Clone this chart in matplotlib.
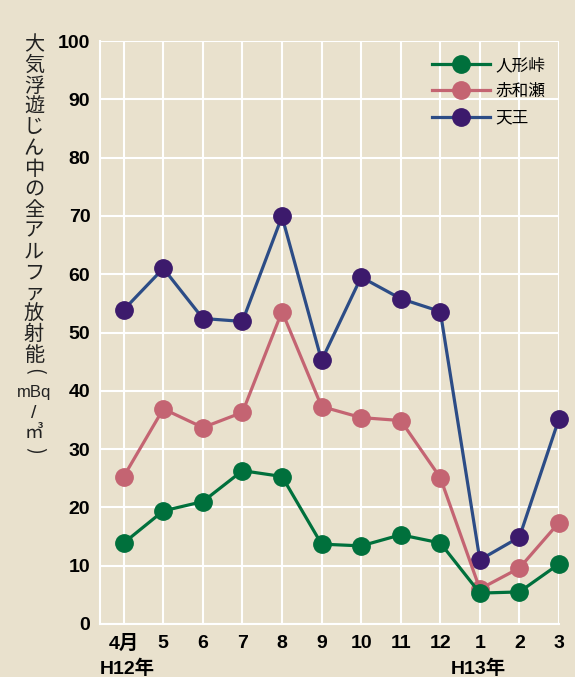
import matplotlib
matplotlib.use("Agg")
import matplotlib.pyplot as plt

# Data
months = ["4月", "5", "6", "7", "8", "9", "10", "11", "12", "1", "2", "3"]
ningyo = [13.9, 19.4, 21.0, 26.3, 25.3, 13.7, 13.4, 15.3, 13.9, 5.3, 5.5, 10.3]
akawase = [25.3, 36.9, 33.7, 36.3, 53.6, 37.3, 35.4, 34.9, 25.1, 6.0, 9.6, 17.4]
tenno = [53.9, 61.0, 52.4, 51.9, 69.9, 45.2, 59.5, 55.8, 53.6, 11.0, 14.9, 35.2]
series_names = ["人形峠", "赤和瀬", "天王"]
year_labels = ["H12年", "H13年"]
ylabel_chars = list("大気浮遊じん中の全アルファ放射能")

BG = "#e9e1cd"
GREEN = "#00703c"
PINK = "#c46472"
PURPLE = "#3c1a6c"
NAVY = "#2c4c86"
FONTS = ["Liberation Sans", "Noto Sans CJK JP"]

plt.rcParams["font.family"] = FONTS

fig = plt.figure(figsize=(5.75, 6.77), dpi=100, facecolor=BG)
ax = fig.add_axes([100 / 575, 53 / 677, 459 / 575, 583 / 677])
ax.set_facecolor(BG)

x = list(range(len(months)))
ax.plot(x, tenno, color=NAVY, lw=2.3, marker="o", ms=12.5,
        mfc=PURPLE, mec=PURPLE, label=series_names[2], zorder=3, clip_on=False)
ax.plot(x, akawase, color=PINK, lw=2.3, marker="o", ms=12.5,
        mfc=PINK, mec=PINK, label=series_names[1], zorder=4, clip_on=False)
ax.plot(x, ningyo, color=GREEN, lw=2.3, marker="o", ms=12.5,
        mfc=GREEN, mec=GREEN, label=series_names[0], zorder=5, clip_on=False)

ax.set_xlim(-0.6, 11)
ax.set_ylim(0, 100)
ax.set_xticks(x)
ax.set_xticklabels(months)
ax.set_yticks(range(0, 101, 10))
ax.tick_params(length=0, labelsize=14)
ax.tick_params(axis="x", pad=8)
ax.tick_params(axis="y", pad=7)
for lab in ax.get_xticklabels() + ax.get_yticklabels():
    lab.set_fontweight("bold")

ax.grid(True, color="white", lw=1.5, zorder=1)
ax.set_axisbelow(True)
for side in ["top", "right"]:
    ax.spines[side].set_visible(False)
for side in ["left", "bottom"]:
    ax.spines[side].set_color("white")
    ax.spines[side].set_linewidth(1.5)

# year labels under the month ticks
ax.text(0.08, -7.7, year_labels[0], ha="center", va="center",
        fontsize=14, fontweight="bold")
ax.text(8.95, -7.7, year_labels[1], ha="center", va="center",
        fontsize=14, fontweight="bold")

handles, labels = ax.get_legend_handles_labels()
ax.legend(handles[::-1], labels[::-1], loc="upper left",
          bbox_to_anchor=(0.69, 0.998), frameon=False, fontsize=12,
          handlelength=3.5, handletextpad=0.3, labelspacing=0.68,
          numpoints=1)

# vertical y-axis title, one character at a time
W, H = 575, 677
for i, ch in enumerate(ylabel_chars):
    fig.text(34 / W, 1 - (45 + i * 20.7) / H, ch, ha="center", va="center",
             fontsize=14.5, color="#222222", family="Noto Sans CJK JP")
fig.text(34 / W, 1 - 371 / H, "(", ha="center", va="center", rotation=-90,
         fontsize=14.5, color="#222222", family="Noto Sans CJK JP")
fig.text(34 / W, 1 - 393 / H, "mBq", ha="center", va="center",
         fontsize=12, color="#222222", family="Liberation Sans")
fig.text(34 / W, 1 - 414 / H, "/", ha="center", va="center",
         fontsize=14, color="#222222", family="Liberation Sans")
fig.text(34 / W, 1 - 433 / H, "㎥", ha="center", va="center",
         fontsize=13.5, color="#222222", family="Noto Sans CJK JP")
fig.text(34 / W, 1 - 450 / H, ")", ha="center", va="center", rotation=-90,
         fontsize=14.5, color="#222222", family="Noto Sans CJK JP")

fig.savefig("out.png", dpi=100, facecolor=BG)
